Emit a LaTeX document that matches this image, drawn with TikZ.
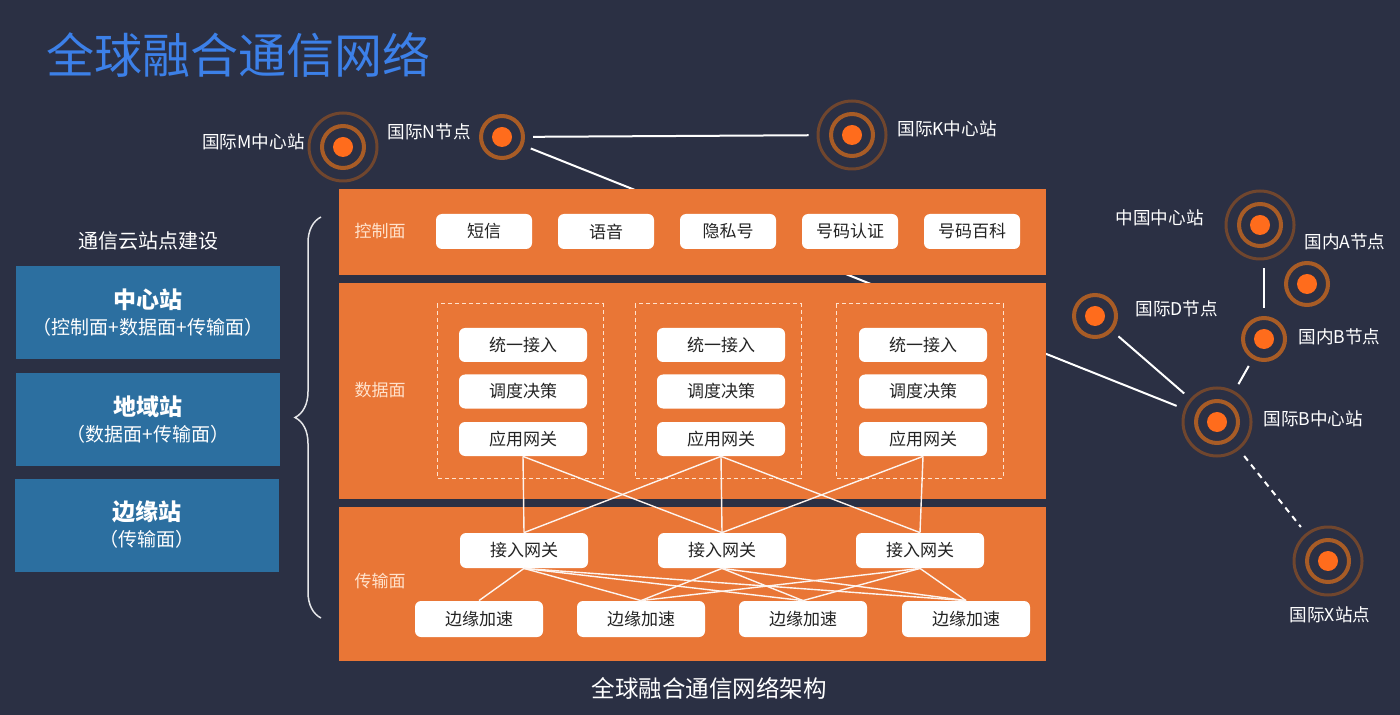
\documentclass[tikz,border=0pt]{standalone}
\usepackage{fontspec}
\setmainfont{Noto Sans CJK SC}
\usetikzlibrary{positioning,decorations.pathreplacing}
\definecolor{bgnavy}{RGB}{43,48,68}
\definecolor{panelorange}{RGB}{233,118,54}
\definecolor{ringouter}{RGB}{112,70,46}
\definecolor{ringinner}{RGB}{168,92,38}
\definecolor{sitedot}{RGB}{255,108,28}
\definecolor{sitebox}{RGB}{44,111,160}
\definecolor{titleblue}{RGB}{60,128,232}
\definecolor{planetext}{RGB}{255,226,204}
\definecolor{boxtext}{RGB}{35,35,35}

\begin{document}
\begin{tikzpicture}[x=0.5pt, y=-0.5pt,
    panel/.style={fill=panelorange},
    svc/.style={fill=white, rounded corners=3pt, minimum width=48pt, minimum height=17.5pt, inner sep=0pt, text=boxtext, font=\fontsize{8.5}{10}\selectfont},
    mod/.style={svc, minimum width=64pt, minimum height=17pt},
    frame/.style={draw=planetext, line width=0.5pt, dash pattern=on 2pt off 1.5pt},
    planelabel/.style={text=planetext, font=\fontsize{8.5}{10}\selectfont},
    station/.style={fill=sitebox, minimum width=132pt, minimum height=46.5pt, align=center, text=white},
    bigsite/.style={circle, draw=ringouter, line width=1.5pt, minimum size=34pt, inner sep=0pt,
      path picture={\draw[ringinner, line width=2pt] (path picture bounding box.center) circle (10.5pt);
        \fill[sitedot] (path picture bounding box.center) circle (5pt);}},
    smallsite/.style={circle, draw=ringinner, line width=2pt, minimum size=21pt, inner sep=0pt,
      path picture={\fill[sitedot] (path picture bounding box.center) circle (5pt);}},
    sitelabel/.style={text=white, inner sep=0pt, font=\fontsize{8.8}{10}\selectfont},
    link/.style={draw=white, line width=1pt, shorten <=4pt, shorten >=4pt},
    mesh/.style={draw=white!92!panelorange, line width=0.7pt}
  ]
    \fill[bgnavy] (0,0) rectangle (1400,715);
    \useasboundingbox (0,0) rectangle (1400,715);

    % title and caption
    \node[anchor=west, text=titleblue, inner sep=0pt, font=\fontsize{24}{28}\selectfont] (title) at (46,55) {全球融合通信网络};
    \node[text=white, font=\fontsize{11.75}{14}\selectfont] (caption) at (709,688) {全球融合通信网络架构};

    % sites
    \node[bigsite] (siteM) at (343,147) {};
    \node[smallsite] (siteN) at (502,137) {};
    \node[bigsite] (siteK) at (852,135) {};
    \node[bigsite] (siteCN) at (1260,225) {};
    \node[smallsite] (siteA) at (1307,284) {};
    \node[smallsite] (siteD) at (1095,316) {};
    \node[smallsite] (siteHB) at (1264,339) {};
    \node[bigsite] (siteB) at (1217,422) {};
    \node[bigsite] (siteX) at (1328,561) {};

    % the long link runs behind the panels
    \draw[link] (siteN) -- (siteB);

    % planes
    \fill[panel] (339,189) rectangle (1046,275);
    \fill[panel] (339,283) rectangle (1046,499);
    \fill[panel] (339,507) rectangle (1046,661);
    \node[planelabel] (ctrlLabel) at (380,231) {控制面};
    \node[planelabel] (dataLabel) at (380,390) {数据面};
    \node[planelabel] (transLabel) at (380,581) {传输面};

    % control plane
    \foreach \x/\t [count=\i] in {484/短信, 606/语音, 728/隐私号, 850/号码认证, 972/号码百科}
      \node[svc] (svc\i) at (\x,231.5) {\t};

    % data plane
    \draw[frame] (437,304) rectangle (603,478);
    \draw[frame] (635,304) rectangle (801,478);
    \draw[frame] (836,304) rectangle (1003,478);
    \foreach \x [count=\i] in {523,721,923} {
      \node[mod] (acc\i) at (\x,345) {统一接入};
      \node[mod] (sched\i) at (\x,391.5) {调度决策};
      \node[mod] (app\i) at (\x,439) {应用网关};
    }

    % transport plane
    \foreach \x [count=\i] in {524,722,920}
      \node[mod, minimum height=17.5pt] (gw\i) at (\x,550.5) {接入网关};
    \foreach \x [count=\i] in {479,641,803,966}
      \node[mod, minimum height=18pt] (edge\i) at (\x,619) {边缘加速};

    \foreach \a/\b in {1/1, 1/2, 2/1, 2/2, 2/3, 3/2, 3/3}
      \draw[mesh] (app\a.south) -- (gw\b.north);
    \foreach \a/\b in {1/1, 1/2, 1/3, 1/4, 2/2, 2/3, 2/4, 3/2, 3/3, 3/4}
      \draw[mesh] (gw\a.south) -- (edge\b.north);

    % stations on the left
    \node[text=white, font=\fontsize{10}{12}\selectfont] (stationHead) at (148,241) {通信云站点建设};
    \node[station] (central) at (148,313) {{\bfseries\fontsize{11.5}{14}\selectfont 中心站}\\[1pt]{\fontsize{9.5}{12}\selectfont （控制面+数据面+传输面）}};
    \node[station] (regional) at (148,419.5) {{\bfseries\fontsize{11.5}{14}\selectfont 地域站}\\[1pt]{\fontsize{9.5}{12}\selectfont （数据面+传输面）}};
    \node[station] (edgesite) at (147,525) {{\bfseries\fontsize{11.5}{14}\selectfont 边缘站}\\[1pt]{\fontsize{9.5}{12}\selectfont （传输面）}};
    \draw[white!88!bgnavy, line width=0.75pt, decorate, decoration={brace, amplitude=13pt}] (321,618) -- (321,217);

    % site labels
    \node[sitelabel, anchor=east] (labM) at (305,142) {国际M中心站};
    \node[sitelabel, anchor=east] (labN) at (471,132) {国际N节点};
    \node[sitelabel, anchor=west] (labK) at (897,129) {国际K中心站};
    \node[sitelabel, anchor=east] (labCN) at (1204,218) {中国中心站};
    \node[sitelabel, anchor=west] (labA) at (1304,242) {国内A节点};
    \node[sitelabel, anchor=west] (labD) at (1135,309) {国际D节点};
    \node[sitelabel, anchor=west] (labHB) at (1298,337) {国内B节点};
    \node[sitelabel, anchor=west] (labB) at (1263,419) {国际B中心站};
    \node[sitelabel] (labX) at (1330,615) {国际X站点};

    % links
    \draw[link] (siteN) -- (siteK);
    \draw[link] (siteD) -- (siteB);
    \draw[link] (siteHB) -- (siteB);
    \draw[link] (siteCN.south -| siteHB.north) -- (siteHB.north);
    \draw[link, dash pattern=on 3pt off 2.5pt] (siteB) -- (siteX);
  \end{tikzpicture}
\end{document}
